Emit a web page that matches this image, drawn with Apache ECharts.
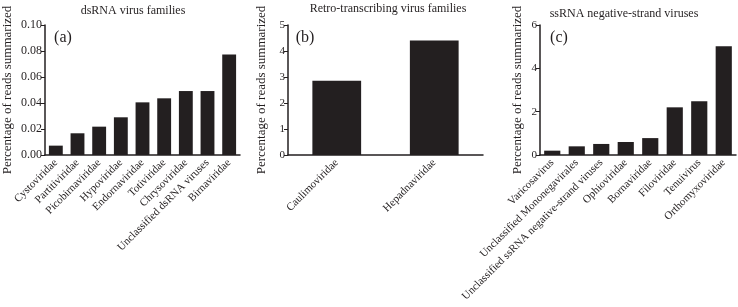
<!DOCTYPE html>
<html>
<head>
<meta charset="utf-8">
<script src="https://cdn.jsdelivr.net/npm/echarts@6/dist/echarts.min.js"></script>
<style>
  html, body { margin: 0; padding: 0; background: #fff; }
  #main { width: 738px; height: 307px; }
</style>
</head>
<body>
<div id="main"></div>
<script>
var dsrnaNames = ['Cystoviridae', 'Partitiviridae', 'Picobirnaviridae', 'Hypoviridae', 'Endornaviridae',
  'Totiviridae', 'Chrysoviridae', 'Unclassified dsRNA viruses', 'Birnaviridae'];
var dsrnaValues = [0.0072, 0.0167, 0.0218, 0.029, 0.0405, 0.0436, 0.0492, 0.0492, 0.0774];

var retroNames = ['Caulimoviridae', 'Hepadnaviridae'];
var retroValues = [2.86, 4.40];

var ssrnaNames = ['Varicosavirus', 'Unclassified Mononegavirales', 'Unclassified ssRNA negative-strand viruses',
  'Ophioviridae', 'Bornaviridae', 'Filoviridae', 'Tenuivirus', 'Orthomyxoviridae'];
var ssrnaValues = [0.2, 0.4, 0.51, 0.6, 0.78, 2.2, 2.48, 5.02];

var serif = '"Liberation Serif", "DejaVu Serif", serif';
var ink = '#231f20';

function xAxisFor(idx, names) {
  return {
    type: 'category', gridIndex: idx, data: names,
    axisLine: { lineStyle: { color: ink, width: 1.5 } },
    axisTick: { alignWithLabel: true, length: 4, lineStyle: { color: ink } },
    axisLabel: { rotate: 45, color: ink, fontFamily: serif, fontSize: 11, margin: 6, interval: 0 }
  };
}

function yAxisFor(idx, max, interval, digits, labelSize) {
  return {
    type: 'value', gridIndex: idx, min: 0, max: max, interval: interval,
    name: 'Percentage of reads summarized', nameLocation: 'middle', nameGap: idx === 0 ? 31 : (idx === 1 ? 20 : 16),
    nameTextStyle: { color: ink, fontFamily: serif, fontSize: 13 },
    splitLine: { show: false },
    axisLine: { show: true, lineStyle: { color: ink, width: 1.5 } },
    axisTick: { show: true, length: 4, lineStyle: { color: ink } },
    axisLabel: {
      color: ink, fontFamily: serif, fontSize: labelSize, margin: 3,
      formatter: function (v) { return v.toFixed(digits); }
    }
  };
}

function titleAt(text, x, y, size) {
  return { text: text, left: x, top: y, textAlign: 'center',
    textStyle: { color: ink, fontFamily: serif, fontSize: size, fontWeight: 'normal' } };
}

var option = {
  backgroundColor: '#fff',
  animation: false,
  title: [
    titleAt('dsRNA virus families', 128, 0, 12),
    titleAt('Retro-transcribing virus families', 383, -2, 12),
    titleAt('ssRNA negative-strand viruses', 619, 3, 12),
    titleAt('(a)', 58, 25, 16),
    titleAt('(b)', 300, 25, 16),
    titleAt('(c)', 554, 25, 16)
  ],
  grid: [
    { left: 40, top: 25, width: 200, height: 130 },
    { left: 288, top: 25, width: 195, height: 130 },
    { left: 540, top: 25, width: 196, height: 130 }
  ],
  xAxis: [xAxisFor(0, dsrnaNames), xAxisFor(1, retroNames), xAxisFor(2, ssrnaNames)],
  yAxis: [yAxisFor(0, 0.1, 0.02, 2, 12), yAxisFor(1, 5, 1, 0, 11), yAxisFor(2, 6, 2, 0, 11)],
  series: [
    { type: 'bar', xAxisIndex: 0, yAxisIndex: 0, data: dsrnaValues, barCategoryGap: '36%', itemStyle: { color: ink } },
    { type: 'bar', xAxisIndex: 1, yAxisIndex: 1, data: retroValues, barCategoryGap: '50%', itemStyle: { color: ink } },
    { type: 'bar', xAxisIndex: 2, yAxisIndex: 2, data: ssrnaValues, barCategoryGap: '34%', itemStyle: { color: ink } }
  ]
};

var myChart = echarts.init(document.getElementById('main'));
myChart.setOption(option, true);
</script>
</body>
</html>
